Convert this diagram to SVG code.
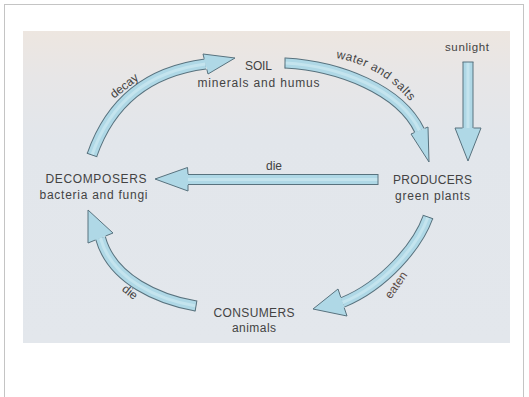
<svg xmlns="http://www.w3.org/2000/svg" width="529" height="397" viewBox="0 0 529 397">
<defs>
<linearGradient id="bg" x1="0" y1="0" x2="0" y2="1">
<stop offset="0" stop-color="#ede6e0"/>
<stop offset="0.15" stop-color="#e7e6e7"/>
<stop offset="0.35" stop-color="#e2e6eb"/>
<stop offset="1" stop-color="#e3e7ec"/>
</linearGradient>
<path id="wpath" d="M 336 58 Q 383 66 414 106"/>
</defs>
<style>
.t{font-family:"Liberation Sans",Arial,Helvetica,sans-serif;font-size:12px;fill:#434343;}
.m{text-anchor:middle}
.so{fill:none;stroke:#58727e;stroke-width:11}
.si{fill:none;stroke:#afd8e6;stroke-width:9}
.hl{fill:none;stroke:#c4e4ee;stroke-width:3}
.hd{fill:#afd8e6;stroke:#58727e;stroke-width:1}
.cap{stroke:#58727e;stroke-width:1}
</style>
<rect x="4.5" y="4.5" width="519" height="400" fill="#fff" stroke="#c4c4c4"/>
<rect x="23" y="31" width="487" height="312" fill="url(#bg)"/>

<g id="connectors">
<g id="decay-arrow">
<path class="so" d="M92 155 Q120 75 205.5 64"/>
<path class="si" d="M92 155 Q120 75 205.5 64"/>
<path class="hl" d="M92 155 Q120 75 205.5 64"/>
<line class="cap" x1="86.8" y1="153.2" x2="97.2" y2="156.8"/>
<path class="hd" d="M204.2 58.7 L203 54 L235 58 L208 74 L206.8 69.3"/>
<text class="t m" transform="translate(126.5 89) rotate(-38)">decay</text>
</g>
<g id="water-arrow">
<path class="so" d="M285 63 C340 66 400 90 419.5 130.5"/>
<path class="si" d="M285 63 C340 66 400 90 419.5 130.5"/>
<path class="hl" d="M285 63 C340 66 400 90 419.5 130.5"/>
<line class="cap" x1="285" y1="57.5" x2="285" y2="68.5"/>
<path class="hd" d="M414.4 132.6 L411 134 L429 162 L428 127 L424.6 128.4"/>
<text class="t" letter-spacing="0.5"><textPath href="#wpath">water and salts</textPath></text>
</g>
<g id="sun-arrow">
<path class="so" d="M468 62 V128"/>
<path class="si" d="M468 62 V128"/>
<path class="hl" d="M468 62 V128"/>
<line class="cap" x1="462.5" y1="62" x2="473.5" y2="62"/>
<path class="hd" d="M462.5 128 L455 128 L468 161 L481 128 L473.5 128"/>
</g>
<g id="die-arrow-top">
<path class="so" d="M378 179.5 H188"/>
<path class="si" d="M378 179.5 H188"/>
<path class="hl" d="M378 179.5 H188"/>
<line class="cap" x1="378" y1="174" x2="378" y2="185"/>
<path class="hd" d="M188 174 L187.5 167.5 L155 179 L188 191 L188 185"/>
<text class="t m" x="274" y="170">die</text>
</g>
<g id="eaten-arrow">
<path class="so" d="M428 217 C418 245 385 285 342.5 302.5"/>
<path class="si" d="M428 217 C418 245 385 285 342.5 302.5"/>
<path class="hl" d="M428 217 C418 245 385 285 342.5 302.5"/>
<line class="cap" x1="422.8" y1="215.2" x2="433.2" y2="218.8"/>
<path class="hd" d="M340.8 297.3 L338 289 L313 309 L347 316 L344.2 307.7"/>
<text class="t m" style="fill:#5a4a46" transform="translate(399.3 287.3) rotate(-55)">eaten</text>
</g>
<g id="die-arrow-bottom">
<path class="so" d="M196 306 C160 300 112 280 100.5 238"/>
<path class="si" d="M196 306 C160 300 112 280 100.5 238"/>
<path class="hl" d="M196 306 C160 300 112 280 100.5 238"/>
<line class="cap" x1="196.9" y1="300.6" x2="195.1" y2="311.4"/>
<path class="hd" d="M95.4 240 L88 243 L88 210 L113 233 L105.6 236"/>
<text class="t m" transform="translate(127.5 295.2) rotate(38)">die</text>
</g>
</g>

<g id="soil">
<text class="t m" x="258.5" y="70" textLength="27" lengthAdjust="spacing">SOIL</text>
<text class="t m" x="258.5" y="87" textLength="122" lengthAdjust="spacing">minerals and humus</text>
</g>
<g id="producers">
<text class="t m" x="432.5" y="184" textLength="79" lengthAdjust="spacing">PRODUCERS</text>
<text class="t m" x="432.5" y="200" textLength="75" lengthAdjust="spacing">green plants</text>
</g>
<g id="consumers">
<text class="t m" x="254" y="317" textLength="81" lengthAdjust="spacing">CONSUMERS</text>
<text class="t m" x="254" y="332" textLength="44" lengthAdjust="spacing">animals</text>
</g>
<g id="decomposers">
<text class="t m" x="96" y="183" textLength="101" lengthAdjust="spacing">DECOMPOSERS</text>
<text class="t m" x="93.5" y="199" textLength="108" lengthAdjust="spacing">bacteria and fungi</text>
</g>
<g id="sunlight">
<text class="t m" x="467" y="51" style="font-size:11.5px" textLength="44" lengthAdjust="spacing">sunlight</text>
</g>
</svg>
